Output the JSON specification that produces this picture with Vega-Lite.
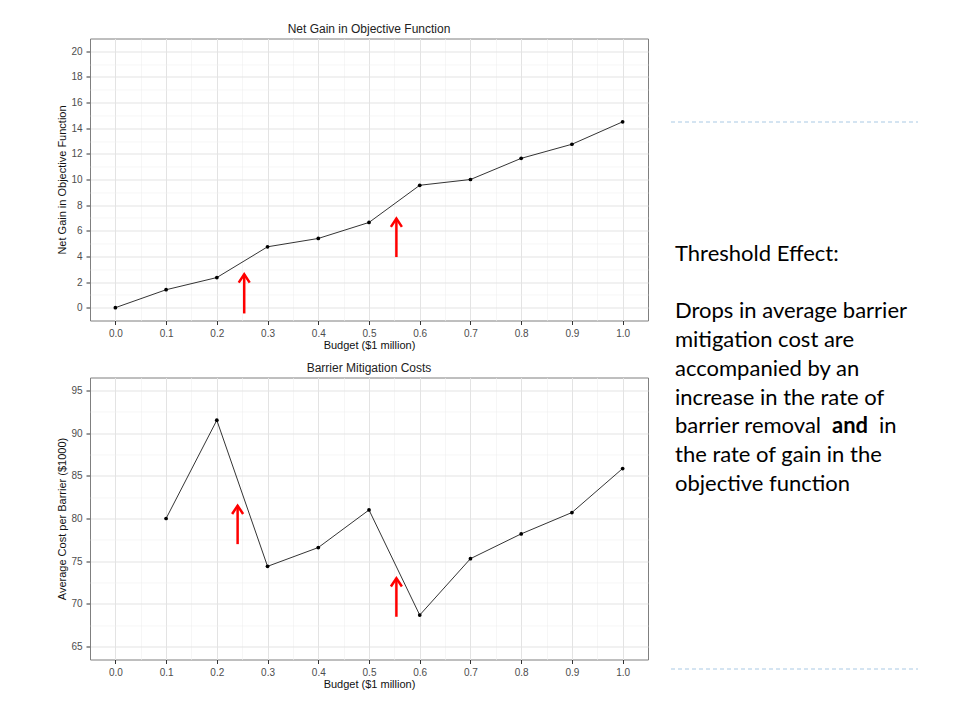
{
  "$schema": "https://vega.github.io/schema/vega-lite/v6.json",
  "background": "white",
  "padding": {"left": 56, "top": 21.5, "right": 5, "bottom": 5},
  "config": {
    "font": "Liberation Sans",
    "view": {"stroke": "#7f7f7f", "strokeWidth": 1},
    "axis": {
      "domain": false,
      "tickColor": "#333333",
      "tickSize": 4,
      "labelFont": "Liberation Sans",
      "labelFontSize": 10,
      "labelColor": "#4d4d4d",
      "labelPadding": 4,
      "labelOverlap": false,
      "titleFont": "Liberation Sans",
      "titleFontSize": 11,
      "titleFontWeight": "normal",
      "titleColor": "#111111",
      "titlePadding": 3,
      "gridColor": "#e6e6e6"
    },
    "title": {"font": "Liberation Sans", "fontSize": 12, "fontWeight": "normal", "color": "#222222", "offset": 3, "frame": "group", "anchor": "middle"}
  },
  "hconcat": [
    {
      "spacing": 9,
      "vconcat": [
        {
          "width": 558,
          "height": 282,
          "title": {"text": "Net Gain in Objective Function"},
          "data": {"values": [
            {"budget": 0.0, "gain": 0.0},
            {"budget": 0.1, "gain": 1.4},
            {"budget": 0.2, "gain": 2.35},
            {"budget": 0.3, "gain": 4.75},
            {"budget": 0.4, "gain": 5.4},
            {"budget": 0.5, "gain": 6.65},
            {"budget": 0.6, "gain": 9.55},
            {"budget": 0.7, "gain": 10.0},
            {"budget": 0.8, "gain": 11.65},
            {"budget": 0.9, "gain": 12.75},
            {"budget": 1.0, "gain": 14.5}
          ]},
          "layer": [
            {
              "mark": {"type": "line", "color": "black", "strokeWidth": 0.8, "point": {"filled": true, "size": 14, "color": "black"}},
              "encoding": {
                "x": {"field": "budget", "type": "quantitative", "title": "Budget ($1 million)",
                  "scale": {"domain": [-0.05, 1.05], "nice": false, "zero": false},
                  "axis": {
                    "values": [0, 0.05, 0.1, 0.15, 0.2, 0.25, 0.3, 0.35, 0.4, 0.45, 0.5, 0.55, 0.6, 0.65, 0.7, 0.75, 0.8, 0.85, 0.9, 0.95, 1.0],
                    "tickCount": 100,
                    "labelOverlap": false,
                    "titlePadding": 1,
                    "labelExpr": "round(datum.value*20) % 2 == 1 ? '' : format(datum.value, '.1f')",
                    "tickOpacity": {"condition": {"test": "round(datum.value*20) % 2 == 1", "value": 0}, "value": 1},
                    "gridWidth": {"condition": {"test": "round(datum.value*20) % 2 == 1", "value": 0.6}, "value": 1},
                    "gridColor": {"condition": {"test": "round(datum.value*20) % 2 == 1", "value": "#f0f0f0"}, "value": "#e3e3e3"}
                  }},
                "y": {"field": "gain", "type": "quantitative", "title": "Net Gain in Objective Function",
                  "scale": {"domain": [-1, 21], "nice": false, "zero": false},
                  "axis": {
                    "values": [0, 1, 2, 3, 4, 5, 6, 7, 8, 9, 10, 11, 12, 13, 14, 15, 16, 17, 18, 19, 20],
                    "tickCount": 100,
                    "labelOverlap": false,
                    "labelExpr": "datum.value % 2 != 0 ? '' : format(datum.value, 'd')",
                    "tickOpacity": {"condition": {"test": "datum.value % 2 != 0", "value": 0}, "value": 1},
                    "gridWidth": {"condition": {"test": "datum.value % 2 != 0", "value": 0.6}, "value": 1},
                    "gridColor": {"condition": {"test": "datum.value % 2 != 0", "value": "#f0f0f0"}, "value": "#e3e3e3"}
                  }}
              }
            },
            {
              "data": {"values": [{"x": 0.254, "y0": -0.45, "y1": 2.6}, {"x": 0.554, "y0": 3.95, "y1": 6.95}]},
              "mark": {"type": "rule", "color": "red", "strokeWidth": 2.5},
              "encoding": {
                "x": {"field": "x", "type": "quantitative", "title": "Budget ($1 million)"},
                "y": {"field": "y0", "type": "quantitative", "title": "Net Gain in Objective Function"},
                "y2": {"field": "y1"}
              }
            },
            {
              "data": {"values": [{"x": 0.254, "y0": -0.45, "y1": 2.6}, {"x": 0.554, "y0": 3.95, "y1": 6.95}]},
              "mark": {"type": "point", "shape": "M-1,1.5L0,0L1,1.5", "filled": false, "stroke": "red", "strokeWidth": 2.5, "size": 121, "opacity": 1},
              "encoding": {
                "x": {"field": "x", "type": "quantitative", "title": "Budget ($1 million)"},
                "y": {"field": "y1", "type": "quantitative", "title": "Net Gain in Objective Function"}
              }
            }
          ]
        },
        {
          "width": 558,
          "height": 282,
          "title": {"text": "Barrier Mitigation Costs"},
          "data": {"values": [
            {"budget": 0.1, "cost": 80.0},
            {"budget": 0.2, "cost": 91.5},
            {"budget": 0.3, "cost": 74.4},
            {"budget": 0.4, "cost": 76.6},
            {"budget": 0.5, "cost": 81.0},
            {"budget": 0.6, "cost": 68.7},
            {"budget": 0.7, "cost": 75.3},
            {"budget": 0.8, "cost": 78.2},
            {"budget": 0.9, "cost": 80.7},
            {"budget": 1.0, "cost": 85.85}
          ]},
          "layer": [
            {
              "mark": {"type": "line", "color": "black", "strokeWidth": 0.8, "point": {"filled": true, "size": 14, "color": "black"}},
              "encoding": {
                "x": {"field": "budget", "type": "quantitative", "title": "Budget ($1 million)",
                  "scale": {"domain": [-0.05, 1.05], "nice": false, "zero": false},
                  "axis": {
                    "values": [0, 0.05, 0.1, 0.15, 0.2, 0.25, 0.3, 0.35, 0.4, 0.45, 0.5, 0.55, 0.6, 0.65, 0.7, 0.75, 0.8, 0.85, 0.9, 0.95, 1.0],
                    "tickCount": 100,
                    "labelOverlap": false,
                    "titlePadding": 1,
                    "labelExpr": "round(datum.value*20) % 2 == 1 ? '' : format(datum.value, '.1f')",
                    "tickOpacity": {"condition": {"test": "round(datum.value*20) % 2 == 1", "value": 0}, "value": 1},
                    "gridWidth": {"condition": {"test": "round(datum.value*20) % 2 == 1", "value": 0.6}, "value": 1},
                    "gridColor": {"condition": {"test": "round(datum.value*20) % 2 == 1", "value": "#f0f0f0"}, "value": "#e3e3e3"}
                  }},
                "y": {"field": "cost", "type": "quantitative", "title": "Average Cost per Barrier ($1000)",
                  "scale": {"domain": [63.5, 96.5], "nice": false, "zero": false},
                  "axis": {
                    "values": [65, 67.5, 70, 72.5, 75, 77.5, 80, 82.5, 85, 87.5, 90, 92.5, 95],
                    "tickCount": 100,
                    "labelOverlap": false,
                    "labelExpr": "datum.value % 5 != 0 ? '' : format(datum.value, 'd')",
                    "tickOpacity": {"condition": {"test": "datum.value % 5 != 0", "value": 0}, "value": 1},
                    "gridWidth": {"condition": {"test": "datum.value % 5 != 0", "value": 0.6}, "value": 1},
                    "gridColor": {"condition": {"test": "datum.value % 5 != 0", "value": "#f0f0f0"}, "value": "#e3e3e3"}
                  }}
              }
            },
            {
              "data": {"values": [{"x": 0.241, "y0": 77.0, "y1": 81.5}, {"x": 0.554, "y0": 68.5, "y1": 73.0}]},
              "mark": {"type": "rule", "color": "red", "strokeWidth": 2.5},
              "encoding": {
                "x": {"field": "x", "type": "quantitative", "title": "Budget ($1 million)"},
                "y": {"field": "y0", "type": "quantitative", "title": "Average Cost per Barrier ($1000)"},
                "y2": {"field": "y1"}
              }
            },
            {
              "data": {"values": [{"x": 0.241, "y0": 77.0, "y1": 81.5}, {"x": 0.554, "y0": 68.5, "y1": 73.0}]},
              "mark": {"type": "point", "shape": "M-1,1.5L0,0L1,1.5", "filled": false, "stroke": "red", "strokeWidth": 2.5, "size": 121, "opacity": 1},
              "encoding": {
                "x": {"field": "x", "type": "quantitative", "title": "Budget ($1 million)"},
                "y": {"field": "y1", "type": "quantitative", "title": "Average Cost per Barrier ($1000)"}
              }
            }
          ]
        }
      ]
    },
    {
      "width": 247,
      "height": 630.5,
      "view": {"stroke": null},
      "data": {"values": [
        {"line": 0, "text": "Threshold Effect:", "seg": "a"},
        {"line": 2, "text": "Drops in average barrier", "seg": "a"},
        {"line": 3, "text": "mitigation cost are", "seg": "a"},
        {"line": 4, "text": "accompanied by an", "seg": "a"},
        {"line": 5, "text": "increase in the rate of", "seg": "a"},
        {"line": 6, "text": "barrier removal", "seg": "a"},
        {"line": 6, "text": "and", "seg": "b"},
        {"line": 6, "text": "in", "seg": "c"},
        {"line": 7, "text": "the rate of gain in the", "seg": "a"},
        {"line": 8, "text": "objective function", "seg": "a"}
      ]},
      "layer": [
        {
          "data": {"values": [{"pos": -4.6}, {"pos": 14.46}]},
          "mark": {"type": "rule", "color": "#a9c9e4", "strokeDash": [4, 3], "strokeWidth": 1},
          "encoding": {
            "x": {"datum": 0, "type": "quantitative", "scale": {"domain": [0, 1], "nice": false, "zero": false}, "axis": null},
            "x2": {"datum": 1},
            "y": {"field": "pos", "type": "quantitative", "scale": {"domain": [-7.51, 14.46], "reverse": true, "nice": false, "zero": false}, "axis": null}
          }
        },
        {
          "transform": [{"filter": "datum.seg == 'a'"}],
          "mark": {"type": "text", "align": "left", "baseline": "middle", "font": "Lato", "fontSize": 22, "dx": 4, "color": "black"},
          "encoding": {
            "x": {"datum": 0, "type": "quantitative"},
            "y": {"field": "line", "type": "quantitative"},
            "text": {"field": "text"}
          }
        },
        {
          "transform": [{"filter": "datum.seg == 'b'"}],
          "mark": {"type": "text", "align": "left", "baseline": "middle", "font": "Lato", "fontSize": 22, "fontWeight": "bold", "dx": 161, "color": "black"},
          "encoding": {
            "x": {"datum": 0, "type": "quantitative"},
            "y": {"field": "line", "type": "quantitative"},
            "text": {"field": "text"}
          }
        },
        {
          "transform": [{"filter": "datum.seg == 'c'"}],
          "mark": {"type": "text", "align": "left", "baseline": "middle", "font": "Lato", "fontSize": 22, "dx": 208, "color": "black"},
          "encoding": {
            "x": {"datum": 0, "type": "quantitative"},
            "y": {"field": "line", "type": "quantitative"},
            "text": {"field": "text"}
          }
        }
      ]
    }
  ],
  "spacing": 21
}
